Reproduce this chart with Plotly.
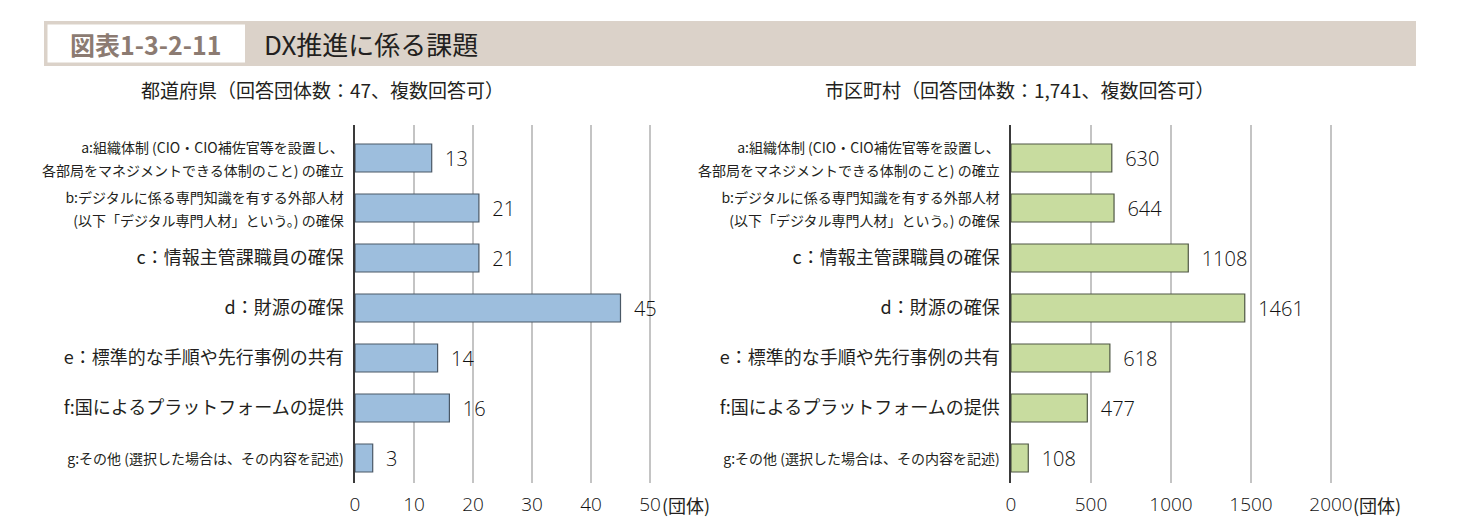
import plotly.graph_objects as go

W, H = 1474, 530

categories = [
    "a:組織体制 (CIO・CIO補佐官等を設置し、<br>各部局をマネジメントできる体制のこと) の確立",
    "b:デジタルに係る専門知識を有する外部人材<br>(以下「デジタル専門人材」という。) の確保",
    "c：情報主管課職員の確保",
    "d：財源の確保",
    "e：標準的な手順や先行事例の共有",
    "f:国によるプラットフォームの提供",
    "g:その他 (選択した場合は、その内容を記述)",
]
small_label = [True, True, False, False, False, False, True]
pref_values = [13, 21, 21, 45, 14, 16, 3]
muni_values = [630, 644, 1108, 1461, 618, 477, 108]
pref_ticks = [0, 10, 20, 30, 40, 50]
muni_ticks = [0, 500, 1000, 1500, 2000]

title_no = "図表1-3-2-11"
title_txt = "DX推進に係る課題"
sub_pref = "都道府県（回答団体数：47、複数回答可）"
sub_muni = "市区町村（回答団体数：1,741、複数回答可）"
unit = "(団体)"

FONT = "Noto Sans CJK JP"
NUMFONT = "Open Sans"
TXT = "#231f20"
NUMTXT = "#111111"


def px(x):
    return x / W


def py(y):
    return 1 - y / H


tick_labels = [
    (f'<span style="font-size:14px">{c}</span>' if s else f'<span style="font-size:18px">{c}</span>')
    for c, s in zip(categories, small_label)
]
ypos = list(range(len(categories)))

fig = go.Figure()
fig.add_trace(go.Bar(
    x=pref_values, y=ypos, orientation="h",
    marker=dict(color="#9dbedd", line=dict(color="#4a5866", width=1.2)),
    width=0.56,
    text=pref_values, texttemplate="\u00a0\u00a0%{x}", textposition="outside",
    textfont=dict(size=20, color=NUMTXT, family=NUMFONT, weight=350), cliponaxis=False,
    xaxis="x", yaxis="y", showlegend=False,
))
fig.add_trace(go.Bar(
    x=muni_values, y=ypos, orientation="h",
    marker=dict(color="#c8dc9f", line=dict(color="#4f5744", width=1.2)),
    width=0.56,
    text=muni_values, texttemplate="\u00a0\u00a0%{x}", textposition="outside",
    textfont=dict(size=20, color=NUMTXT, family=NUMFONT, weight=350), cliponaxis=False,
    xaxis="x2", yaxis="y2", showlegend=False,
))

ydom = [py(483), py(125)]
yrange = [6.5, -0.66]

common_x = dict(
    showgrid=True, gridcolor="#c4c4c4", gridwidth=2, zeroline=False,
    showline=False, ticks="", ticklabelstandoff=8,
    tickfont=dict(size=19, color=NUMTXT, family=NUMFONT, weight=350), fixedrange=True,
    automargin=False,
)
common_y = dict(
    tickmode="array", tickvals=ypos, ticktext=tick_labels,
    range=yrange, showgrid=False, zeroline=False,
    showline=True, linecolor="#3a3a3a", linewidth=1.5, ticks="",
    ticklabelstandoff=6, automargin=False,
    tickfont=dict(size=18, color=TXT, family=FONT),
)

fig.update_layout(
    width=W, height=H, autosize=False,
    margin=dict(l=0, r=0, t=0, b=0, pad=0),
    paper_bgcolor="white", plot_bgcolor="white",
    font=dict(family=FONT, color=TXT),
    barmode="group",
    xaxis=dict(domain=[px(355), px(650 + 2.95)], range=[0, 50.5],
               tickvals=pref_ticks, anchor="y", **common_x),
    yaxis=dict(domain=ydom, anchor="x", **common_y),
    xaxis2=dict(domain=[px(1011), px(1331 + 3.2)], range=[0, 2020],
                tickvals=muni_ticks, anchor="y2", **common_x),
    yaxis2=dict(domain=ydom, anchor="x2", **common_y),
)

shapes = [
    dict(type="rect", xref="paper", yref="paper", x0=px(44), x1=px(1416), y0=py(66), y1=py(21),
         fillcolor="#dbd2c9", line=dict(width=0), layer="below"),
    dict(type="rect", xref="paper", yref="paper", x0=px(47.5), x1=px(245), y0=py(62.5), y1=py(24.5),
         fillcolor="white", line=dict(width=0), layer="below"),
]
fig.update_layout(shapes=shapes)

annotations = [
    dict(text=f"<b>{title_no}</b>", x=px(146), y=py(44), xref="paper", yref="paper",
         showarrow=False, xanchor="center", yanchor="middle",
         font=dict(size=25, color="#8c7b72", family=FONT)),
    dict(text=title_txt, x=px(262), y=py(44), xref="paper", yref="paper",
         showarrow=False, xanchor="left", yanchor="middle",
         font=dict(size=26, color=TXT, family=FONT)),
    dict(text=sub_pref, x=px(322), y=py(90), xref="paper", yref="paper",
         showarrow=False, xanchor="center", yanchor="middle",
         font=dict(size=19, color=TXT, family=FONT)),
    dict(text=sub_muni, x=px(1019), y=py(90), xref="paper", yref="paper",
         showarrow=False, xanchor="center", yanchor="middle",
         font=dict(size=19, color=TXT, family=FONT)),
    dict(text=unit, x=px(660), y=py(505), xref="paper", yref="paper",
         showarrow=False, xanchor="left", yanchor="middle",
         font=dict(size=18, color=TXT, family=FONT)),
    dict(text=unit, x=px(1351), y=py(505), xref="paper", yref="paper",
         showarrow=False, xanchor="left", yanchor="middle",
         font=dict(size=18, color=TXT, family=FONT)),
]
fig.update_layout(annotations=annotations)

fig.write_html(
    "out.html",
    config={"responsive": False, "displayModeBar": False},
    post_script="document.body.style.margin='0';document.body.style.overflow='hidden';",
)
